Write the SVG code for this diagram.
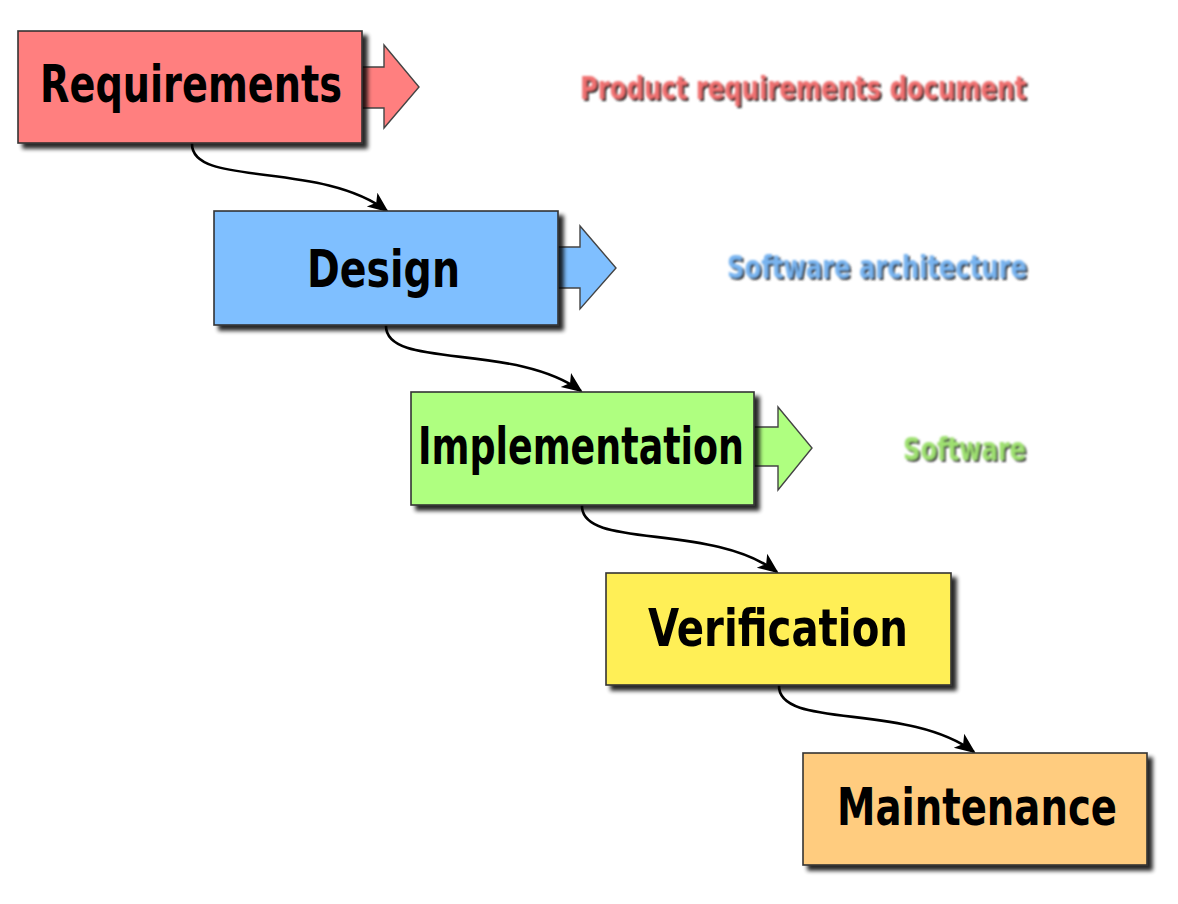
<svg xmlns="http://www.w3.org/2000/svg" width="1178" height="904" viewBox="0 0 1178 904">
  <defs>
    <filter id="shadow" x="-10%" y="-20%" width="130%" height="150%">
      <feGaussianBlur in="SourceAlpha" stdDeviation="2"/>
      <feOffset dx="5" dy="5" result="b"/>
      <feComponentTransfer><feFuncA type="linear" slope="0.85"/></feComponentTransfer>
      <feMerge><feMergeNode/><feMergeNode in="SourceGraphic"/></feMerge>
    </filter>
    <filter id="soft" x="-5%" y="-30%" width="110%" height="160%">
      <feGaussianBlur stdDeviation="0.8"/>
    </filter>
    <marker id="head" viewBox="0 0 10 10" refX="9" refY="5" markerWidth="8" markerHeight="8" markerUnits="strokeWidth" orient="auto">
      <path d="M0,0.8 L10,5 L0,9.2 L2.5,5 Z" fill="#000"/>
    </marker>
    <style>
      .box { stroke: #333; stroke-width: 1.6; }
      .flow { stroke: #444; stroke-width: 1.4; }
      .label { font-family: "DejaVu Sans Condensed", "DejaVu Sans", sans-serif; font-stretch: condensed; font-weight: bold; fill: #000; text-anchor: start; }
      .big { font-size: 52px; }
      .out { font-size: 32px; }
      .link { fill: none; stroke: #000; stroke-width: 2.6; marker-end: url(#head); }
      .req { fill: #ff7f7f; }
      .des { fill: #7fbfff; }
      .imp { fill: #afff80; }
      .ver { fill: #ffef57; }
      .mai { fill: #ffcc7f; }
    </style>
  </defs>
  <rect width="1178" height="904" fill="#fff"/>

  <!-- process connectors -->
  <g id="connectors">
    <path class="link" d="M192,143 C190,188 320,160 387,211"/>
    <path class="link" d="M386,325 C384,370 514,342 581,391"/>
    <path class="link" d="M582,505 C580,550 710,522 777,572"/>
    <path class="link" d="M779,685 C777,730 907,702 974,752"/>
  </g>

  <g id="requirements">
    <path class="req flow" d="M362,67 H384 V45 L419,87 L384,128 V108 H362 Z"/>
    <rect class="req box" x="18" y="31" width="344" height="112" filter="url(#shadow)"/>
    <text class="label big" x="40" y="102" textLength="302" lengthAdjust="spacingAndGlyphs">Requirements</text>
  </g>

  <g id="design">
    <path class="des flow" d="M558,247 H580 V226 L616,268 L580,309 V288 H558 Z"/>
    <rect class="des box" x="214" y="211" width="344" height="114" filter="url(#shadow)"/>
    <text class="label big" x="307" y="287" textLength="153" lengthAdjust="spacingAndGlyphs">Design</text>
  </g>

  <g id="implementation">
    <path class="imp flow" d="M754,427 H778 V407 L812,448 L778,490 V466 H754 Z"/>
    <rect class="imp box" x="411" y="392" width="343" height="113" filter="url(#shadow)"/>
    <text class="label big" x="418" y="464" textLength="326" lengthAdjust="spacingAndGlyphs">Implementation</text>
  </g>

  <g id="verification">
    <rect class="ver box" x="606" y="573" width="345" height="112" filter="url(#shadow)"/>
    <text class="label big" x="648" y="646" textLength="260" lengthAdjust="spacingAndGlyphs">Verification</text>
  </g>

  <g id="maintenance">
    <rect class="mai box" x="803" y="753" width="344" height="112" filter="url(#shadow)"/>
    <text class="label big" x="837" y="825" textLength="280" lengthAdjust="spacingAndGlyphs">Maintenance</text>
  </g>

  <!-- deliverables of each phase -->
  <g id="outputs" filter="url(#soft)">
    <g id="out-requirements">
      <text class="label out" x="582" y="101" textLength="446" lengthAdjust="spacingAndGlyphs" style="fill:#222">Product requirements document</text>
      <text class="label out" x="580" y="99" textLength="446" lengthAdjust="spacingAndGlyphs" style="fill:#f07070">Product requirements document</text>
    </g>
    <g id="out-design">
      <text class="label out" x="729" y="280" textLength="300" lengthAdjust="spacingAndGlyphs" style="fill:#333">Software architecture</text>
      <text class="label out" x="727" y="278" textLength="300" lengthAdjust="spacingAndGlyphs" style="fill:#78b4f0">Software architecture</text>
    </g>
    <g id="out-implementation">
      <text class="label out" x="905" y="462" textLength="123" lengthAdjust="spacingAndGlyphs" style="fill:#444">Software</text>
      <text class="label out" x="903" y="460" textLength="123" lengthAdjust="spacingAndGlyphs" style="fill:#9ee070">Software</text>
    </g>
  </g>
</svg>
